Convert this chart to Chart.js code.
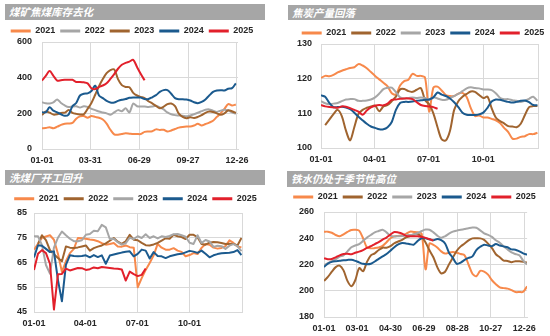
<!DOCTYPE html>
<html><head><meta charset="utf-8">
<script src="https://cdn.jsdelivr.net/npm/chart.js@4.4.0/dist/chart.umd.min.js"></script>
<style>
html,body{margin:0;padding:0;width:550px;height:336px;overflow:hidden;background:#fff;}
.bar{position:absolute;background:#a6a6a6;color:#fff;font-family:"Noto Sans CJK SC",sans-serif;font-size:10.5px;font-style:italic;font-weight:bold;padding-left:4px;box-sizing:border-box;white-space:nowrap;}
canvas{position:absolute;}
</style></head><body>
<div class="bar" style="left:5px;top:4px;width:260px;height:16px;line-height:16px;">煤矿焦煤库存去化</div>
<div class="bar" style="left:288px;top:5px;width:256px;height:15px;line-height:15px;">焦炭产量回落</div>
<div class="bar" style="left:5px;top:170px;width:260px;height:15px;line-height:15px;">洗煤厂开工回升</div>
<div class="bar" style="left:287px;top:171px;width:258px;height:16px;line-height:16px;">铁水仍处于季节性高位</div>
<canvas id="c1" width="264" height="150" style="left:0px;top:18px"></canvas>
<canvas id="c2" width="254" height="148" style="left:296px;top:20px"></canvas>
<canvas id="c3" width="271" height="150" style="left:0px;top:186px"></canvas>
<canvas id="c4" width="255" height="150" style="left:287px;top:186px"></canvas>
<script>
// ---------- data (weekly values, week index i -> day i*7) ----------
const years = ['2021','2022','2023','2024','2025'];

// Chart 1: 煤矿焦煤库存
const c1TickDays = [0,89,179,269,359];
const c1TickLabels = ['01-01','03-31','06-29','09-27','12-26'];
const c1_2021 = [116,118,122,116,125,135,141,143,146,170,183,185,175,185,180,175,165,142,108,82,80,84,88,86,84,84,84,96,98,100,110,107,108,98,104,112,120,124,126,126,132,141,132,140,148,158,180,200,225,252,244,250];
const c1_2022 = [262,256,255,262,278,258,244,235,238,240,233,240,236,225,218,210,205,200,192,205,218,212,228,205,255,240,238,238,236,238,242,233,222,205,195,190,188,186,183,188,195,203,212,220,222,215,208,215,220,215,205,197];
const c1_2023 = [190,210,204,193,195,202,204,218,203,197,194,195,225,258,304,352,392,425,442,446,392,358,348,346,315,300,292,285,268,256,242,228,237,252,255,240,198,180,173,178,174,180,190,203,210,208,200,192,200,217,212,202];
const c1_2024 = [206,206,234,215,205,195,186,193,240,258,300,310,312,325,355,300,285,270,261,261,270,276,280,287,289,289,288,280,280,290,302,320,330,330,310,285,279,279,277,272,262,257,264,278,300,320,328,330,328,338,341,368];
const c1_2025 = [384,410,437,410,384,386,388,388,388,376,376,374,368,341,336,348,356,369,393,420,450,472,483,490,500,460,420,385];

// Chart 2: 焦炭产量
const c2TickDays = [0,90,181,273,365];
const c2TickLabels = ['01-01','04-01','07-01','10-01',''];
const c2_2021 = [120.2,120.8,120.7,121.1,121.8,122.3,122.7,123.1,123.3,124.2,123.8,123.0,121.9,120.8,119.8,118.8,117.8,115.8,115.4,118.0,119.3,119.7,121.4,120.8,120.8,120.3,110.5,117.4,117.7,116.6,115.3,115.0,115.0,115.7,115.9,114.7,111.5,109.2,109.4,108.8,108.8,108.4,108.0,107.2,105.8,104.6,102.7,102.7,103.2,103.4,104.0,104.0,104.4];
const c2_2022 = [null,106.6,108.2,109.8,111.0,109.2,105.0,102.2,106.0,109.8,111.0,111.6,112.0,112.2,110.6,112.0,112.4,113.5,114.8,116.9,117.0,116.4,116.2,116.8,117.3,113.8,112.6,110.0,106.0,102.5,102.2,105.0,111.0,113.5,114.8,115.6,116.3,116.2,115.3,114.4,114.8,111.5,108.8,107.8,107.1,106.3,106.2,106.0,107.0,109.5,111.8,112.1,112.1];
const c2_2023 = [113.5,112.9,112.6,112.8,113.0,113.5,114.0,114.1,114.1,113.6,113.6,113.7,114.0,114.6,115.7,117.0,117.4,117.4,116.1,114.6,114.3,114.4,114.6,114.4,114.6,114.4,113.9,114.6,114.3,113.9,113.9,114.4,115.0,115.6,116.4,117.2,117.5,117.3,117.2,116.9,116.9,116.7,115.8,114.5,114.1,114.1,113.8,113.6,113.3,113.6,114.2,114.8,113.6];
const c2_2024 = [115.2,114.8,113.0,111.8,111.8,111.9,111.7,111.2,110.2,109.0,108.0,107.0,106.2,105.8,105.4,105.4,106.0,107.5,111.0,113.0,113.3,113.3,113.4,113.6,113.8,113.9,114.0,114.6,116.0,115.4,115.0,114.3,113.2,111.8,110.2,109.6,109.5,109.5,109.7,110.2,111.6,113.4,114.0,113.9,113.6,113.3,113.1,113.3,113.6,113.7,113.2,112.4,112.3];
const c2_2025 = [112.4,112.0,111.8,111.7,111.6,112.0,111.9,111.5,111.0,110.5,109.6,110.8,111.7,112.2,112.4,112.3,112.8,113.9,114.0,114.2,114.3,114.3,114.1,113.2,112.4,112.1,112.0,111.8,111.3];

// Chart 3: 洗煤厂开工
const c3TickDays = [0,90,181,273,365];
const c3TickLabels = ['01-01','04-01','07-01','10-01',''];
const c3_2021 = [70.2,72.5,75.0,75.5,76.0,74.2,68.5,61.2,65.5,68.8,70.5,74.9,74.8,74.6,74.3,74.1,73.6,72.8,72.2,72.5,72.9,71.5,71.4,71.9,71.2,71.0,55.0,58.7,62.0,64.8,67.9,72.5,71.0,70.2,70.2,70.8,69.8,69.3,67.5,68.0,68.8,68.4,70.9,72.5,72.2,71.0,70.6,70.9,71.6,74.0,72.9,71.5,71.1];
const c3_2022 = [null,72.5,76.0,74.0,70.0,68.3,66.8,65.5,71.5,71.0,70.9,71.1,71.5,71.9,69.8,70.8,71.4,71.9,72.7,73.8,74.9,73.4,72.5,73.6,76.2,74.2,74.0,72.9,72.0,71.9,72.3,72.9,73.8,74.8,74.6,76.2,75.6,75.3,74.5,76.2,76.2,75.2,72.5,72.2,73.0,73.3,73.2,72.9,72.5,72.6,72.5,71.9,74.9];
const c3_2023 = [75.6,75.6,72.0,64.0,60.5,71.0,75.0,77.5,76.0,74.6,73.6,73.6,74.0,76.2,76.5,77.8,77.6,80.2,79.2,74.5,74.6,73.2,72.2,72.8,75.0,74.5,75.6,74.9,76.4,74.9,75.6,74.7,75.6,75.3,75.7,76.4,76.5,76.0,75.4,73.0,72.5,76.0,72.9,74.1,73.5,71.3,71.8,71.6,70.5,71.8,72.4,71.6,69.6];
const c3_2024 = [67.0,72.0,71.8,70.5,69.2,69.5,58.0,49.3,64.0,67.9,67.6,67.5,67.6,67.9,67.1,68.0,67.2,67.9,64.5,67.8,68.2,68.6,69.0,69.3,69.5,67.5,68.5,70.2,69.8,66.6,69.2,67.6,67.5,66.8,67.5,67.9,68.3,68.5,69.1,69.7,69.4,68.9,69.8,68.5,67.1,67.9,68.4,68.7,68.8,68.9,69.2,70.0,68.0];
const c3_2025 = [62.0,68.5,70.0,68.8,64.5,46.0,60.3,60.4,62.5,61.8,62.3,62.8,62.7,62.0,62.3,63.0,62.7,63.2,63.0,62.8,62.6,62.5,62.2,57.7,61.3,60.3,59.5,60.0,62.6];

// Chart 4: 铁水
const c4TickDays = [0,59,119,179,239,299,359];
const c4TickLabels = ['01-01','03-01','04-30','06-29','08-28','10-27','12-26'];
const c4_2021 = [245.0,245.0,244.2,242.5,241.5,243.0,244.8,246.3,246.5,245.8,240.0,233.0,232.3,232.5,233.0,234.2,237.0,240.0,241.4,241.8,242.3,243.3,245.0,244.8,244.5,243.5,216.3,236.0,235.0,233.0,230.0,228.3,229.0,229.5,229.0,228.0,227.0,220.0,213.0,211.0,215.2,214.5,212.3,208.0,205.0,202.6,202.0,201.6,200.5,199.0,199.0,199.2,203.4];
const c4_2022 = [207.5,210.5,214.5,218.0,219.1,215.5,207.5,203.5,208.0,217.3,214.8,222.0,227.0,228.5,231.0,232.8,232.8,234.0,236.2,237.5,238.8,240.6,241.7,242.8,243.3,241.0,236.8,230.8,225.5,218.0,213.3,214.5,220.1,225.3,230.5,233.8,236.0,238.4,239.9,240.0,239.9,238.8,235.9,232.5,227.8,225.5,223.0,222.7,221.8,222.5,222.4,222.0,221.4];
const c4_2023 = [219.5,221.0,222.5,224.0,226.0,227.0,230.0,233.1,234.5,235.5,238.0,240.5,242.5,244.5,245.5,246.5,244.5,242.0,241.4,241.5,241.7,242.2,242.5,242.8,244.0,245.5,246.6,246.5,244.5,242.0,240.4,241.5,243.5,245.0,245.8,246.4,247.0,247.6,248.1,248.0,246.0,243.8,242.6,241.0,238.5,236.6,233.8,231.5,229.2,228.0,227.0,223.0,220.0];
const c4_2024 = [218.1,220.7,222.0,222.5,222.8,223.2,223.5,223.6,222.8,221.6,220.5,220.2,220.6,222.3,224.3,226.2,228.0,230.5,233.2,235.3,236.3,236.0,235.5,235.2,238.0,240.0,239.9,239.2,238.5,239.5,238.5,236.0,229.0,225.0,220.5,221.5,223.5,225.0,226.2,231.0,233.5,235.1,234.5,234.0,235.6,234.5,233.8,233.1,231.5,231.3,230.0,228.5,227.5];
const c4_2025 = [224.8,224.0,224.2,225.5,227.0,228.0,228.2,227.8,229.0,229.8,231.0,232.6,234.0,235.6,237.0,239.0,240.5,242.8,244.8,244.4,243.5,241.8,241.5,241.5,241.6,241.0,240.3,239.2,238.2];

// ---------- styles ----------
const COL = {'2021':'#f7894b','2022g':'#a6a6a6','2022b':'#a0642f','2023g':'#a6a6a6','2023b':'#a0642f','2024':'#1b5a8e','2025':'#e2202b'};
const TXT = '#262626';
const GRID = '#d9d9d9';
Chart.defaults.font.family = '"Liberation Sans", Arial, sans-serif';

const legendFix = {
  id: 'legendFix',
  beforeLayout(chart, args, opts) {
    const lg = chart.legend;
    if (lg && !lg._fixPatched) {
      const fit = lg.fit;
      lg.fit = function() { fit.call(this); this.height = opts.height; };
      lg._fixPatched = true;
    }
  }
};

function pts(arr) { return arr.map((v, i) => ({x: i * 7, y: v})); }

function makeChart(id, g) {
  const n = g.series.length;
  new Chart(document.getElementById(id), {
    type: 'line',
    data: {
      datasets: g.series.map((s, k) => ({
        label: s.label, data: pts(s.values), borderColor: s.color, backgroundColor: s.color,
        borderWidth: 2, pointRadius: 0, tension: g.tension, order: n - k, spanGaps: false,
        borderJoinStyle: 'round'
      }))
    },
    options: {
      responsive: false, animation: false, events: [],
      layout: {padding: {top: g.padTop, left: 0, right: 0, bottom: 0}},
      plugins: {
        tooltip: {enabled: false},
        legendFix: {height: g.legendH},
        legend: {
          position: 'top',
          labels: {
            boxWidth: 20, boxHeight: 3, padding: 5, color: TXT,
            font: {size: 9, weight: 'bold'},
            sort: (a, b) => a.datasetIndex - b.datasetIndex,
            generateLabels: (chart) => Chart.defaults.plugins.legend.labels.generateLabels(chart)
              .map(l => Object.assign(l, {lineWidth: 0, fillStyle: l.strokeStyle}))
          }
        }
      },
      scales: {
        x: {
          type: 'linear', min: 0, max: g.xMax,
          afterBuildTicks: (s) => { s.ticks = g.tickDays.map(v => ({value: v})); },
          afterFit: (s) => { s.height = g.xH; },
          ticks: {autoSkip: false, maxRotation: 0, padding: 6, color: TXT, font: {size: 9, weight: 'bold'},
                  callback: (v, i) => g.tickLabels[i]},
          grid: {color: GRID, drawTicks: false, lineWidth: 1},
          border: {color: GRID}
        },
        y: {
          min: g.yMin, max: g.yMax,
          afterFit: (s) => { s.width = g.yW; },
          ticks: {stepSize: g.yStep, padding: g.yPad, color: TXT, font: {size: 9, weight: 'bold'}},
          grid: {color: GRID, drawTicks: false, lineWidth: 1},
          border: {color: GRID}
        },
        y2: {
          position: 'right', display: true,
          afterFit: (s) => { s.width = g.y2W; },
          ticks: {display: false}, grid: {display: false}, border: {display: false}
        }
      }
    },
    plugins: [legendFix]
  });
}

makeChart('c1', {
  series: [
    {label: years[0], values: c1_2021, color: COL['2021']},
    {label: years[1], values: c1_2022, color: COL['2022g']},
    {label: years[2], values: c1_2023, color: COL['2023b']},
    {label: years[3], values: c1_2024, color: COL['2024']},
    {label: years[4], values: c1_2025, color: COL['2025']}
  ],
  tension: 0.3, padTop: 3.5, legendH: 20.5, xH: 19, yW: 42, y2W: 26, yPad: 10,
  xMax: 361, tickDays: c1TickDays, tickLabels: c1TickLabels, yMin: 0, yMax: 600, yStep: 200
});
makeChart('c2', {
  series: [
    {label: years[0], values: c2_2021, color: COL['2021']},
    {label: years[1], values: c2_2022, color: COL['2022b']},
    {label: years[2], values: c2_2023, color: COL['2023g']},
    {label: years[3], values: c2_2024, color: COL['2024']},
    {label: years[4], values: c2_2025, color: COL['2025']}
  ],
  tension: 0.3, padTop: 3.5, legendH: 20.5, xH: 20, yW: 25, y2W: 12, yPad: 9,
  xMax: 365, tickDays: c2TickDays, tickLabels: c2TickLabels, yMin: 100, yMax: 130, yStep: 10
});
makeChart('c3', {
  series: [
    {label: years[0], values: c3_2021, color: COL['2021']},
    {label: years[1], values: c3_2022, color: COL['2022b']},
    {label: years[2], values: c3_2023, color: COL['2023g']},
    {label: years[3], values: c3_2024, color: COL['2024']},
    {label: years[4], values: c3_2025, color: COL['2025']}
  ],
  tension: 0, padTop: 3.2, legendH: 23.8, xH: 24, yW: 34, y2W: 29, yPad: 7,
  xMax: 365, tickDays: c3TickDays, tickLabels: c3TickLabels, yMin: 45, yMax: 85, yStep: 10
});
makeChart('c4', {
  series: [
    {label: years[0], values: c4_2021, color: COL['2021']},
    {label: years[1], values: c4_2022, color: COL['2022b']},
    {label: years[2], values: c4_2023, color: COL['2023g']},
    {label: years[3], values: c4_2024, color: COL['2024']},
    {label: years[4], values: c4_2025, color: COL['2025']}
  ],
  tension: 0.3, padTop: 1.5, legendH: 24.5, xH: 19, yW: 37, y2W: 12, yPad: 10,
  xMax: 364, tickDays: c4TickDays, tickLabels: c4TickLabels, yMin: 180, yMax: 260, yStep: 20
});
</script>
</body></html>
